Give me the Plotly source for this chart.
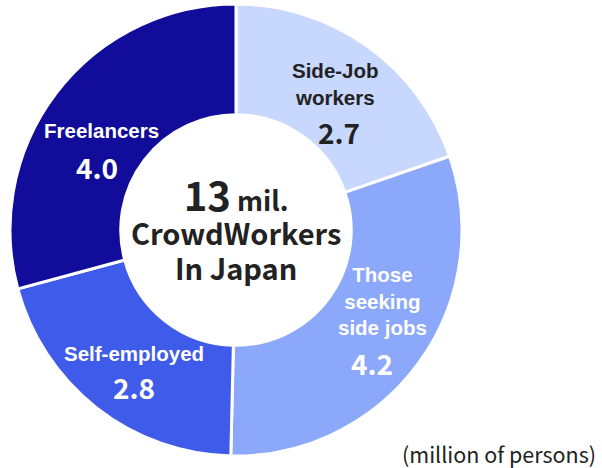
import plotly.graph_objects as go

# Breakdown of crowd workers in Japan (million persons)
categories = ["Side-Job workers", "Those seeking side jobs", "Self-employed", "Freelancers"]
label_lines = ["Side-Job<br>workers", "Those<br>seeking<br>side jobs", "Self-employed", "Freelancers"]
values = [2.7, 4.2, 2.8, 4.0]
slice_colors = ["#C8D7FD", "#8BA8FB", "#3F5BE9", "#110D9A"]
text_colors = ["#222222", "#FFFFFF", "#FFFFFF", "#FFFFFF"]
center_total = "13"
unit_note = "(million of persons)"

W, H = 602, 468

# label / value placement in pixels: (label x, label y, value x, value y)
label_pos = [(335, 84, 339, 132), (382, 301, 372, 363), (134, 353, 134, 387), (101, 130, 97, 167)]

fig = go.Figure()
fig.add_trace(go.Pie(
    labels=categories,
    values=values,
    hole=0.51,
    sort=False,
    direction="clockwise",
    rotation=0,
    marker=dict(colors=slice_colors, line=dict(color="#FFFFFF", width=3)),
    textinfo="none",
    hoverinfo="label+value",
    showlegend=False,
    domain=dict(x=[10 / W, 462 / W], y=[1 - 456 / H, 1 - 4 / H]),
))


def px(x, y):
    return x / W, 1 - y / H


annotations = []
label_font = "Liberation Sans, Arial, sans-serif"
num_font = "Noto Sans CJK JP, Noto Sans, sans-serif"
for lab, val, tc, (lx, ly, vx, vy) in zip(label_lines, values, text_colors, label_pos):
    ax, ay = px(lx, ly)
    annotations.append(dict(
        x=ax, y=ay, xref="paper", yref="paper", xanchor="center", yanchor="middle",
        text=f"<b>{lab}</b>", showarrow=False,
        font=dict(family=label_font, size=20.5, color=tc),
    ))
    bx, by = px(vx, vy)
    annotations.append(dict(
        x=bx, y=by, xref="paper", yref="paper", xanchor="center", yanchor="middle",
        text=f"<b>{val:.1f}</b>", showarrow=False,
        font=dict(family=num_font, size=28, color=tc),
    ))

# centre caption inside the hole (base size sets the tighter line spacing)
cx, cy = px(236, 226)
annotations.append(dict(
    x=cx, y=cy, xref="paper", yref="paper", xanchor="center", yanchor="middle",
    text=(f"<b><span style='font-size:40px'>{center_total}</span>"
          f"<span style='font-size:27px'> mil.</span><br>"
          f"<span style='font-size:29px'>CrowdWorkers</span><br>"
          f"<span style='font-size:29px'>In Japan</span></b>"),
    showarrow=False,
    font=dict(family=num_font, size=26.5, color="#222222"),
))
nx, ny = px(598, 453)
annotations.append(dict(
    x=nx, y=ny, xref="paper", yref="paper", xanchor="right", yanchor="middle",
    text=unit_note, showarrow=False,
    font=dict(family=num_font, size=21.5, color="#222222"),
))

fig.update_layout(
    width=W, height=H,
    margin=dict(l=0, r=0, t=0, b=0),
    paper_bgcolor="#FFFFFF",
    plot_bgcolor="#FFFFFF",
    annotations=annotations,
)

fig.write_html("out.html")
